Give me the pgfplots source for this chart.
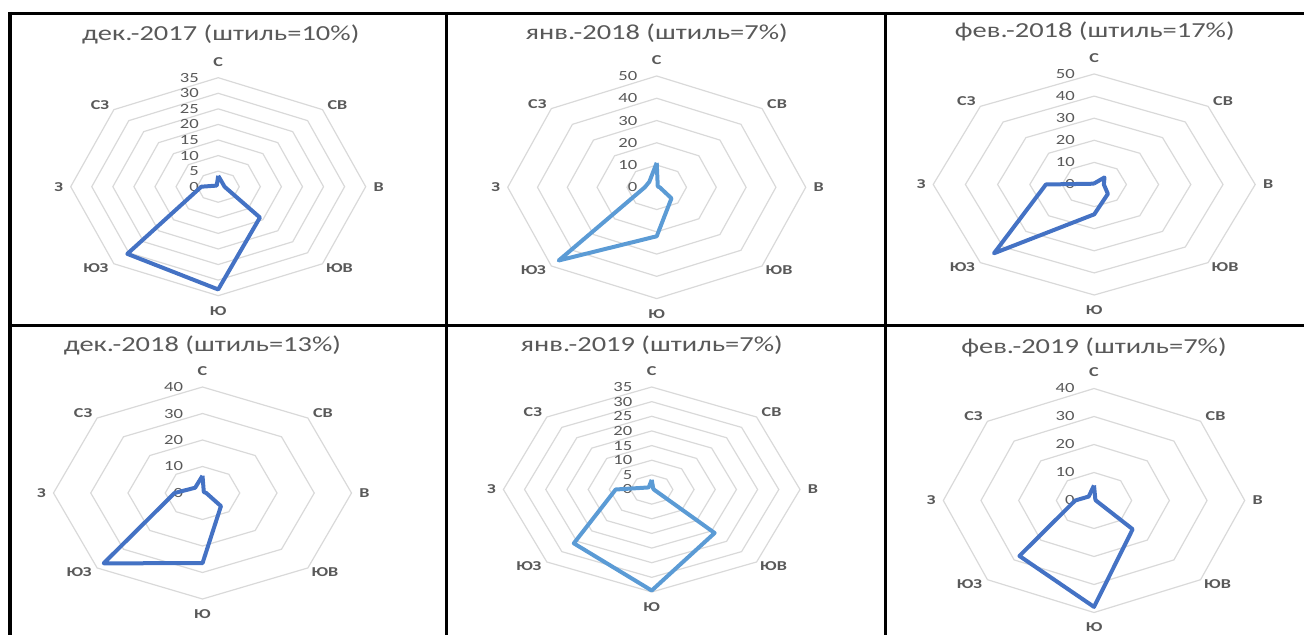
\documentclass[border=0pt]{standalone}
\usepackage{pgfplots}
\pgfplotsset{compat=1.18}
\usepackage{fontspec}
\setmainfont{Carlito}[FakeStretch=1.33]

\definecolor{txt}{HTML}{595959}
\definecolor{ringc}{HTML}{D9D9D9}
\definecolor{dblue}{HTML}{4472C4}
\definecolor{lblue}{HTML}{5B9BD5}

\tikzset{
  ttl/.style={anchor=base, text=txt, font=\fontsize{10.7pt}{12pt}\selectfont, inner sep=0pt},
  tck/.style={anchor=east, text=txt, font=\fontsize{7pt}{8pt}\selectfont, inner sep=0pt, xshift=-9.5pt},
  dir/.style={anchor=center, text=txt, font=\fontsize{6.8pt}{8pt}\selectfont\bfseries, inner sep=0pt},
}
\pgfplotsset{
  rose/.style={hide axis, scale only axis, clip=false, anchor=center,
    xmin=-#1, xmax=#1, ymin=-#1, ymax=#1},
  roseline/.style={line width=2pt, line join=round, no marks, data cs=polar},
}

% octagonal grid rings, #1 = list of ring values
\newcommand\rings[1]{%
  \pgfplotsinvokeforeach{#1}{%
    \addplot[ringc, line width=0.6pt, no marks, data cs=polar] coordinates
      {(90,##1) (45,##1) (0,##1) (-45,##1) (-90,##1) (-135,##1) (180,##1) (135,##1) (90,##1)};}}
% radial tick labels
\newcommand\ticks[1]{%
  \pgfplotsinvokeforeach{#1}{\node[tck] at (axis cs:0,##1) {##1};}}
% direction labels, #1 = outer radius, #2 = outer radius * cos 45
\newcommand\dirs[2]{%
  \node[dir, yshift=8pt] at (axis cs:0,#1) {С};
  \node[dir, xshift=7.5pt, yshift=2.5pt] at (axis cs:#2,#2) {СВ};
  \node[dir, xshift=6.5pt] at (axis cs:#1,0) {В};
  \node[dir, xshift=8.5pt, yshift=-2pt] at (axis cs:#2,-#2) {ЮВ};
  \node[dir, yshift=-7.5pt] at (axis cs:0,-#1) {Ю};
  \node[dir, xshift=-9pt, yshift=-2pt] at (axis cs:-#2,-#2) {ЮЗ};
  \node[dir, xshift=-6pt] at (axis cs:-#1,0) {З};
  \node[dir, xshift=-7pt, yshift=2.5pt] at (axis cs:-#2,#2) {СЗ};
}

\begin{document}
\begin{tikzpicture}
\path[use as bounding box] (0,0) rectangle (652pt,-317.5pt);

% table frame
\draw[line width=1.5pt] (4pt,-7pt) -- (652pt,-7pt);
\draw[line width=1.5pt] (4pt,-162.6pt) -- (652pt,-162.6pt);
\draw[line width=1.6pt] (5pt,-6pt) -- (5pt,-317.5pt);
\draw[line width=1.5pt] (223pt,-6pt) -- (223pt,-317.5pt);
\draw[line width=1.5pt] (442.7pt,-6pt) -- (442.7pt,-317.5pt);

% ---- дек.-2017
\begin{axis}[rose=35, at={(109.1pt,-93.35pt)}, width=147.5pt, height=109pt]
\rings{5,10,...,35}
\ticks{0,5,...,35}
\dirs{35}{24.749}
\addplot[dblue, roseline] table {
ang val
90 3.5
45 1.5
0 1.5
-45 14
-90 33
-135 30.5
180 4
135 0.5
90 3.5
};
\end{axis}
\node[ttl] at (110.4pt,-20.3pt) {дек.-2017 (штиль=10\%)};

% ---- янв.-2018
\begin{axis}[rose=50, at={(328.35pt,-93.65pt)}, width=149pt, height=111.3pt]
\rings{10,20,...,50}
\ticks{0,10,...,50}
\dirs{50}{35.355}
\addplot[lblue, roseline] table {
ang val
90 11
45 0.5
0 1
-45 7
-90 22
-135 46.5
180 4
135 3.5
90 11
};
\end{axis}
\node[ttl] at (328.35pt,-19.65pt) {янв.-2018 (штиль=7\%)};

% ---- фев.-2018
\begin{axis}[rose=50, at={(547.1pt,-92.25pt)}, width=161pt, height=110.5pt]
\rings{10,20,...,50}
\ticks{0,10,...,50}
\dirs{50}{35.355}
\addplot[dblue, roseline] table {
ang val
90 0.5
45 4.5
0 3
-45 6
-90 13.5
-135 44
180 15
135 0.5
90 0.5
};
\end{axis}
\node[ttl] at (547.4pt,-18.65pt) {фев.-2018 (штиль=17\%)};

% ---- дек.-2018
\begin{axis}[rose=40, at={(101.25pt,-246.5pt)}, width=149pt, height=106pt]
\rings{10,20,...,40}
\ticks{0,10,...,40}
\dirs{40}{28.284}
\addplot[dblue, roseline] table {
ang val
90 6.5
45 0.5
0 1
-45 7
-90 26.5
-135 37.5
180 7.5
135 2.8
90 6.5
};
\end{axis}
\node[ttl] at (101.25pt,-176pt) {дек.-2018 (штиль=13\%)};

% ---- янв.-2019
\begin{axis}[rose=35, at={(325.85pt,-244.75pt)}, width=148.3pt, height=102.5pt]
\rings{5,10,...,35}
\ticks{0,5,...,35}
\dirs{35}{24.749}
\addplot[lblue, roseline] table {
ang val
90 3.3
45 0.5
0 0.5
-45 21
-90 34.5
-135 26
180 8.5
135 1
90 3.3
};
\end{axis}
\node[ttl] at (325.85pt,-175.65pt) {янв.-2019 (штиль=7\%)};

% ---- фев.-2019
\begin{axis}[rose=40, at={(547pt,-250.25pt)}, width=150.7pt, height=112pt]
\rings{10,20,...,40}
\ticks{0,10,...,40}
\dirs{40}{28.284}
\addplot[dblue, roseline] table {
ang val
90 5.4
45 0.5
0 0.5
-45 14.5
-90 38
-135 28
180 5
135 2
90 5.4
};
\end{axis}
\node[ttl] at (547pt,-176.85pt) {фев.-2019 (штиль=7\%)};
\end{tikzpicture}
\end{document}
